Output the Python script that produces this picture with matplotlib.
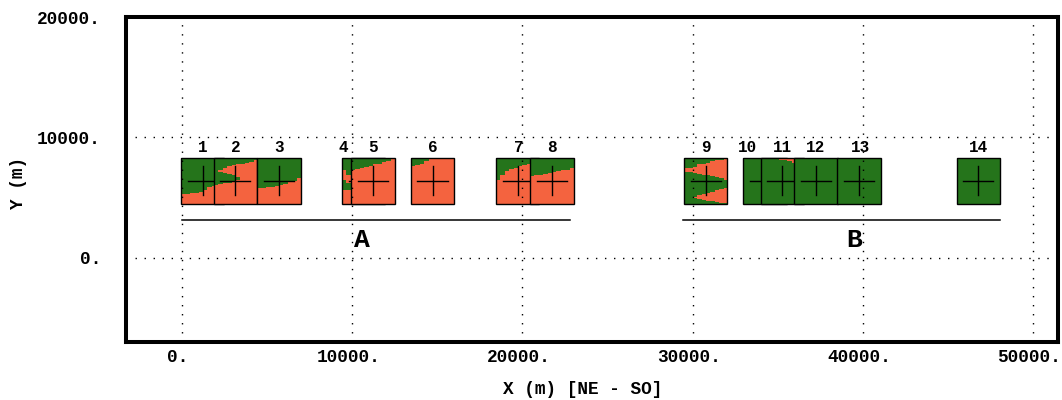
import numpy as np
import matplotlib
matplotlib.use("Agg")
import matplotlib.pyplot as plt
import matplotlib.transforms as mtransforms
from matplotlib.colors import ListedColormap
from matplotlib.patches import Rectangle

# Sites along the profile: label, centre x (m) and where its number is written
site_labels = ["1", "2", "3", "4", "5", "6", "7", "8", "9", "10", "11", "12", "13", "14"]
site_x = [1220, 3140, 5710, 10680, 11220, 14720, 19720, 21740,
          30760, 34250, 35250, 37240, 39760, 46760]
label_x = [1220, 3140, 5710, 9480, 11220, 14720, 19800, 21740,
           30760, 33200, 35250, 37240, 39830, 46760]

# Each site is a block of columns; every column lists the relative heights
# (0 = bottom, 1 = top) where the class changes, starting with class 1 at the bottom.
site_columns = [
    [(0.22,), (0.22,), (0.24,), (0.25,), (0.27,), (0.31,), (0.36,), (0.39,), (0.42,), (0.45,)],
    [(0.42,), (0.44, 0.70, 0.75), (0.45, 0.68, 0.79), (0.46, 0.66, 0.82), (0.49, 0.62, 0.84),
     (0.53, 0.58, 0.86), (0.88,), (0.90,), (0.92,), (0.95,)],
    [(0.35,), (0.35,), (0.36,), (0.37,), (0.39,), (0.41,), (0.44,), (0.47,), (0.51,), (0.56,)],
    [(0.31, 0.53, 0.73), (0.30, 0.45, 0.62), (0.30, 0.44, 0.64), (0.31, 0.45, 0.66),
     (0.33, 0.46, 0.68), (0.35, 0.48, 0.70), (0.37, 0.50, 0.72), (0.40, 0.52, 0.74),
     (0.43, 0.55, 0.76), (0.46, 0.58, 0.78)],
    [(0.74,), (0.76,), (0.79,), (0.81,), (0.83,), (0.86,), (0.88,), (0.91,), (0.94,), (0.97,)],
    [(0.83,), (0.85,), (0.88,), (0.93,), (1.0,), (1.0,), (1.0,), (1.0,), (1.0,), (1.0,)],
    [(0.53,), (0.62,), (0.71,), (0.76,), (0.79,), (0.82,), (0.85,), (0.88,), (0.90,), (0.91,)],
    [(0.61,), (0.62,), (0.63,), (0.66,), (0.67,), (0.69,), (0.71,), (0.73,), (0.75,), (0.79,)],
    [(0.0, 0.70, 0.78), (0.0, 0.70, 0.79), (0.0, 0.13, 0.16, 0.68, 0.81),
     (0.0, 0.10, 0.19, 0.66, 0.86), (0.0, 0.09, 0.22, 0.64, 0.88), (0.0, 0.07, 0.25, 0.63, 0.90),
     (0.0, 0.06, 0.27, 0.60, 0.93), (0.0, 0.04, 0.30, 0.58, 0.95), (0.0, 0.03, 0.33, 0.56, 0.96),
     (0.0, 0.015, 0.35, 0.53, 0.98)],
    [(0.0,)],
    [(0.0,), (0.0,), (0.0,), (0.0, 0.985), (0.0, 0.96), (0.0, 0.95), (0.0, 0.93),
     (0.0, 0.90), (0.0, 0.87), (0.0, 0.83)],
    [(0.0,)],
    [(0.0,)],
    [(0.0,)],
]

# Zone markers below the sites
zone_names = ["A", "B"]
zone_start = [0, 29430]
zone_end = [22800, 48050]
zone_text_x = [10560, 39470]

x_ticks = [0, 10000, 20000, 30000, 40000, 50000]
x_tick_labels = ["0.", "10000.", "20000.", "30000.", "40000.", "50000."]
y_ticks = [0, 10000, 20000]
y_tick_labels = ["0.", "10000.", "20000."]

# Drawing parameters
panel_width = 2540.0
panel_bottom, panel_top = 4500.0, 8300.0
cross_y = 6400.0
cross_dx, cross_dy = 885.0, 1200.0
label_y = 8750.0
zone_line_y = 3100.0
zone_text_y = 900.0

green = "#25741B"
red = "#F4633F"
cmap = ListedColormap([green, red])
mono = "Liberation Mono"

fig = plt.figure(figsize=(10.62, 4.0), dpi=100)
ax = fig.add_axes([126 / 1062, 58 / 400, (1058 - 126) / 1062, 325 / 400])

rows = np.linspace(0, 1, 600, endpoint=False) + 0.5 / 600
for i, (xc, cols) in enumerate(zip(site_x, site_columns)):
    z = 1.0 + 0.05 * i
    img = np.zeros((rows.size, len(cols)))
    for j, trans in enumerate(cols):
        n = np.searchsorted(np.asarray(trans), rows, side="right")
        img[:, j] = (n % 2 == 0).astype(float)
    x0, x1 = xc - panel_width / 2, xc + panel_width / 2
    ax.imshow(img, cmap=cmap, vmin=0, vmax=1, origin="lower", aspect="auto",
              interpolation="nearest", extent=(x0, x1, panel_bottom, panel_top),
              zorder=z)
    ax.add_patch(Rectangle((x0, panel_bottom), panel_width, panel_top - panel_bottom,
                           fill=False, edgecolor="black", linewidth=1.0, zorder=z + 0.01))
    ax.plot([xc - cross_dx, xc + cross_dx], [cross_y, cross_y], color="black",
            linewidth=1.0, zorder=z + 0.02)
    ax.plot([xc, xc], [cross_y - cross_dy, cross_y + cross_dy], color="black",
            linewidth=1.0, zorder=z + 0.02)

for lab, lx in zip(site_labels, label_x):
    ax.text(lx, label_y, lab, ha="center", va="baseline", fontsize=11.5,
            family=mono, fontweight="bold", color="black")

for name, xs, xe, tx in zip(zone_names, zone_start, zone_end, zone_text_x):
    ax.plot([xs, xe], [zone_line_y, zone_line_y], color="black", linewidth=1.1, zorder=3)
    ax.text(tx, zone_text_y, name, ha="center", va="baseline", fontsize=19,
            family=mono, fontweight="bold", color="black")

ax.set_xlim(-3280, 51450)
ax.set_ylim(-7000, 20000)
ax.set_xticks(x_ticks)
ax.set_xticklabels(x_tick_labels)
ax.set_yticks(y_ticks)
ax.set_yticklabels(y_tick_labels)
for lbl in ax.get_xticklabels() + ax.get_yticklabels():
    lbl.set_family(mono)
    lbl.set_fontweight("bold")
    lbl.set_fontsize(12.8)
ax.tick_params(axis="x", length=0, pad=5)
ax.tick_params(axis="y", length=0, pad=18)

# x tick labels sit slightly left of their tick
shift = mtransforms.ScaledTranslation(-4 / 100, 0, fig.dpi_scale_trans)
for lbl in ax.get_xticklabels():
    lbl.set_transform(lbl.get_transform() + shift)

ax.set_axisbelow(False)
ax.grid(True, color="black", linewidth=1.0, linestyle=(0, (1.0, 5.5)))
for sp in ax.spines.values():
    sp.set_linewidth(2.9)
    sp.set_zorder(4)

fig.text(583 / 1062, 6 / 400, "X (m) [NE - SO]", ha="center", va="baseline",
         fontsize=12.8, family=mono, fontweight="bold")
fig.text(19 / 1062, (400 - 183) / 400, "Y (m)", ha="center", va="center",
         rotation=90, fontsize=12.8, family=mono, fontweight="bold")

fig.savefig("out.png", dpi=100)
